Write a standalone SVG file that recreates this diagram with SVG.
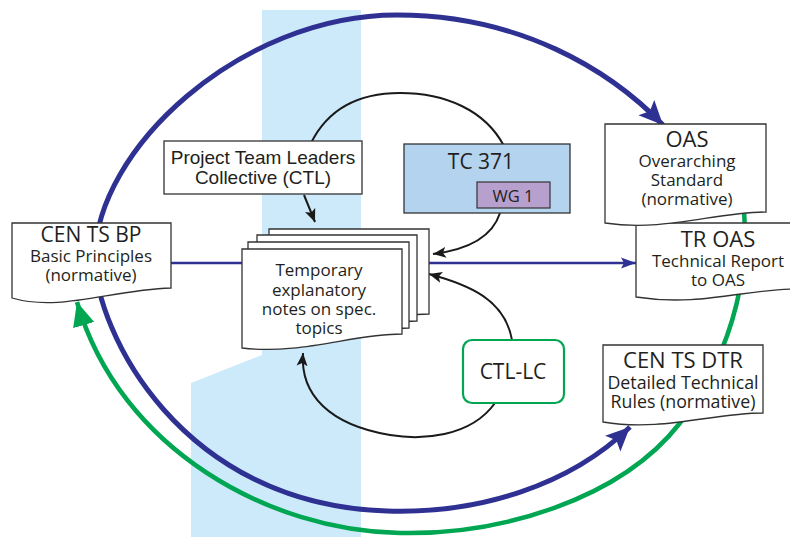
<svg xmlns="http://www.w3.org/2000/svg" width="790" height="537" viewBox="0 0 790 537">
<style>
.doc{fill:#fff;stroke:#333;stroke-width:1.3}
.t{font-family:"Open Sans","Noto Sans",sans-serif;fill:#231f20;text-anchor:middle}
.s{font-size:17px}
.a{font-family:"Liberation Sans",Arial,sans-serif;fill:#231f20;text-anchor:middle}
.blk{fill:none;stroke:#1a1a1a;stroke-width:2}
.blu{fill:none;stroke:#2e3192;stroke-width:5}
.grn{fill:none;stroke:#00a651;stroke-width:4.5}
</style>
<defs>
<marker id="hb" markerUnits="userSpaceOnUse" markerWidth="26" markerHeight="24" viewBox="0 0 26 24" refX="24" refY="12" orient="auto"><path d="M0,1 L24,12 L0,23 L5,12 Z" fill="#2e3192"/></marker>
<marker id="hg" markerUnits="userSpaceOnUse" markerWidth="26" markerHeight="24" viewBox="0 0 26 24" refX="24" refY="12" orient="auto"><path d="M0,1 L24,12 L0,23 Z" fill="#00a651"/></marker>
<marker id="hk" markerUnits="userSpaceOnUse" markerWidth="14" markerHeight="12" viewBox="0 0 14 12" refX="13" refY="6" orient="auto"><path d="M0,0.5 L13,6 L0,11.5 L3,6 Z" fill="#1a1a1a"/></marker>
<marker id="hs" markerUnits="userSpaceOnUse" markerWidth="16" markerHeight="12" viewBox="0 0 16 12" refX="15" refY="6" orient="auto"><path d="M0,0.5 L15,6 L0,11.5 L3,6 Z" fill="#2e3192"/></marker>
</defs>
<polygon points="262,10 361,10 361,537 191,537 191,383 262,355" fill="#cdeafb"/>
<g id="connectors">
<path class="blk" d="M311,143 C 330,105 365,93 400,93 C 445,93 485,110 504,146"/>
<path class="blu" d="M95,258 C 95,150 240,15 397,15 C 520,15 610,70 663,125" marker-end="url(#hb)"/>
<path class="blu" d="M95,258 C 95,330 180,505 387,511 C 480,514 570,485 630,427" marker-end="url(#hb)"/>
<path class="grn" d="M742,195 C 752,260 738,345 680,423 C 620,500 500,535 400,533 C 270,531 120,450 77,302" marker-end="url(#hg)"/>
<path fill="none" stroke="#2e3192" stroke-width="2.5" d="M170,263 H244"/>
<path fill="none" stroke="#2e3192" stroke-width="2.5" d="M428,263 H636" marker-end="url(#hs)"/>
<path class="blk" d="M304,195 L315,222" marker-end="url(#hk)"/>
<path class="blk" d="M500,213 C 492,238 465,250 433,254" marker-end="url(#hk)"/>
<path class="blk" d="M512,340 C 505,300 470,285 429,274" marker-end="url(#hk)"/>
<path class="blk" d="M495,403 C 470,438 420,440 390,435 C 330,425 300,395 303,353" marker-end="url(#hk)"/>
</g>
<g id="cen-ts-bp">
<path class="doc" d="M12,223 H171 V288 C 110,290 60,312 12,298 Z"/>
<text class="t" x="91" y="242" font-size="21">CEN TS BP</text>
<text class="t s" x="91" y="262">Basic Principles</text>
<text class="t s" x="91" y="281">(normative)</text>
</g>
<g id="ctl">
<rect x="164" y="141" width="198" height="53" fill="#fff" stroke="#333" stroke-width="1.3"/>
<text class="a" x="263" y="164" font-size="19">Project Team Leaders</text>
<text class="a" x="263" y="184" font-size="19">Collective (CTL)</text>
</g>
<g id="notes">
<path class="doc" d="M269,229 H429 V314 C 379,314 329,335 269,328 Z"/>
<path class="doc" d="M257,235 H417 V321 C 367,321 317,342 257,335 Z"/>
<path class="doc" d="M248,242 H409 V328 C 359,328 309,349 248,342 Z"/>
<path class="doc" d="M242,249 H402 V334 C 352,334 302,355 242,348 Z"/>
<text class="t s" x="319" y="276">Temporary</text>
<text class="t s" x="319" y="296">explanatory</text>
<text class="t s" x="319" y="315">notes on spec.</text>
<text class="t s" x="319" y="334">topics</text>
</g>
<g id="tc371">
<rect x="404" y="144" width="166" height="69" fill="#b3d3ef" stroke="#333" stroke-width="1.3"/>
<text class="t" x="481" y="169" font-size="21">TC 371</text>
<g id="wg1">
<rect x="477" y="182" width="73" height="26" fill="#b7a0cd" stroke="#333" stroke-width="1.2"/>
<text class="t" x="513" y="202" font-size="16.5">WG 1</text>
</g>
</g>
<g id="ctl-lc">
<rect x="463" y="340" width="101" height="63" rx="9" fill="#fff" stroke="#00a651" stroke-width="2.2"/>
<text class="t" x="513" y="379" font-size="21">CTL-LC</text>
</g>
<g id="tr-oas">
<path class="doc" d="M636,223 H795 V289 C 745,289 700,307 636,297 Z"/>
<text class="t" x="718" y="247" font-size="22">TR OAS</text>
<text class="t s" x="718" y="267">Technical Report</text>
<text class="t s" x="718" y="286">to OAS</text>
</g>
<g id="oas">
<path class="doc" d="M605,124 H766 V212 C 715,212 665,232 605,223 Z"/>
<text class="t" x="687" y="147" font-size="22">OAS</text>
<text class="t s" x="687" y="167">Overarching</text>
<text class="t s" x="687" y="186">Standard</text>
<text class="t s" x="687" y="205">(normative)</text>
</g>
<g id="cen-ts-dtr">
<path class="doc" d="M603,345 H763 V413 C 712,413 662,432 603,422 Z"/>
<text class="t" x="683" y="368" font-size="22">CEN TS DTR</text>
<text class="t" x="683" y="389" font-size="17.8">Detailed Technical</text>
<text class="t" x="683" y="408" font-size="17.8">Rules (normative)</text>
</g>
</svg>
